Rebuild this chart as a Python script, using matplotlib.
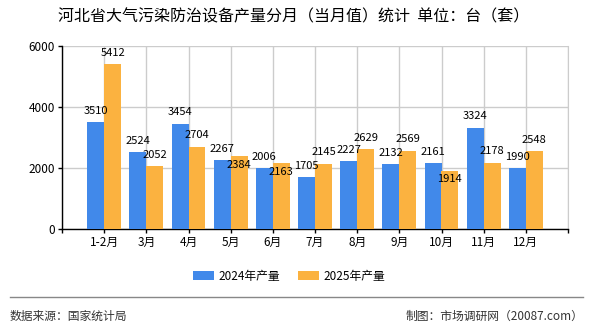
import matplotlib.pyplot as plt
import numpy as np

plt.rcParams['font.family'] = ['Noto Sans CJK SC', 'DejaVu Sans']

# ------------------------------------------------------------------
# data
# ------------------------------------------------------------------
months = ["1-2月", "3月", "4月", "5月", "6月", "7月", "8月", "9月", "10月", "11月", "12月"]
output_2024 = [3510, 2524, 3454, 2267, 2006, 1705, 2227, 2132, 2161, 3324, 1990]
output_2025 = [5412, 2052, 2704, 2384, 2163, 2145, 2629, 2569, 1914, 2178, 2548]
series_names = ["2024年产量", "2025年产量"]
y_ticks = [0, 2000, 4000, 6000]

TITLE = "河北省大气污染防治设备产量分月（当月值）统计  单位：台（套）"
SOURCE = "数据来源：国家统计局"
MAKER = "制图：市场调研网（20087.com）"

BLUE = "#4189EA"
ORANGE = "#FBB240"
GRID = "#CCCCCC"

fig = plt.figure(figsize=(5.9, 3.3), dpi=100)
ax = fig.add_axes([62 / 590, 1 - 229 / 330, 506 / 590, 183 / 330])

x = np.arange(len(months))
w = 0.4
ax.bar(x - w / 2, output_2024, w, color=BLUE, label=series_names[0], zorder=3)
ax.bar(x + w / 2, output_2025, w, color=ORANGE, label=series_names[1], zorder=3)

# value labels; the 2025 label drops inside the bar when it would hit the 2024 one
for i in range(len(months)):
    a, b = output_2024[i], output_2025[i]
    ax.annotate(str(a), (x[i] - w / 2, a), xytext=(0, 4.5), textcoords="offset points",
                ha="center", va="bottom", fontsize=8, zorder=4)
    if abs(a - b) < 300:
        ax.annotate(str(b), (x[i] + w / 2, b), xytext=(0, -2.5), textcoords="offset points",
                    ha="center", va="top", fontsize=8, zorder=4)
    else:
        ax.annotate(str(b), (x[i] + w / 2, b), xytext=(0, 4.5), textcoords="offset points",
                    ha="center", va="bottom", fontsize=8, zorder=4)

ax.set_xlim(-1, len(months))
ax.set_ylim(0, 6000)
ax.set_yticks(y_ticks)
ax.set_yticklabels([str(t) for t in y_ticks], fontsize=8.5)
ax.set_xticks(np.arange(-1, len(months) + 1))
ax.set_xticklabels([""] + months + [""], fontsize=8.5)
ax.tick_params(axis="both", length=3, width=1, pad=2)

# grid: horizontal at y ticks, vertical at each month and the right edge
ax.grid(True, color=GRID, linewidth=1, zorder=0)
ax.spines["top"].set_visible(False)
ax.spines["right"].set_color(GRID)
ax.spines["left"].set_linewidth(1)
ax.spines["bottom"].set_linewidth(1)

fig.text(0.497, 0.948, TITLE, ha="center", va="center", fontsize=11.5)

fig.legend(loc="center", bbox_to_anchor=(0.49, 0.163), ncol=2, frameon=False,
           fontsize=8.5, handlelength=1.8, handleheight=0.8, columnspacing=1.5,
           handletextpad=0.4)

fig.add_artist(plt.Line2D([10 / 590, 583 / 590], [1 - 297 / 330] * 2,
                          transform=fig.transFigure, color="#888888", linewidth=1))
fig.text(10 / 590, 1 - 316 / 330, SOURCE, ha="left", va="center", fontsize=8.5, color="#333333")
fig.text(583 / 590, 1 - 316 / 330, MAKER, ha="right", va="center", fontsize=8.5, color="#333333")

fig.savefig("out.png", dpi=100)
